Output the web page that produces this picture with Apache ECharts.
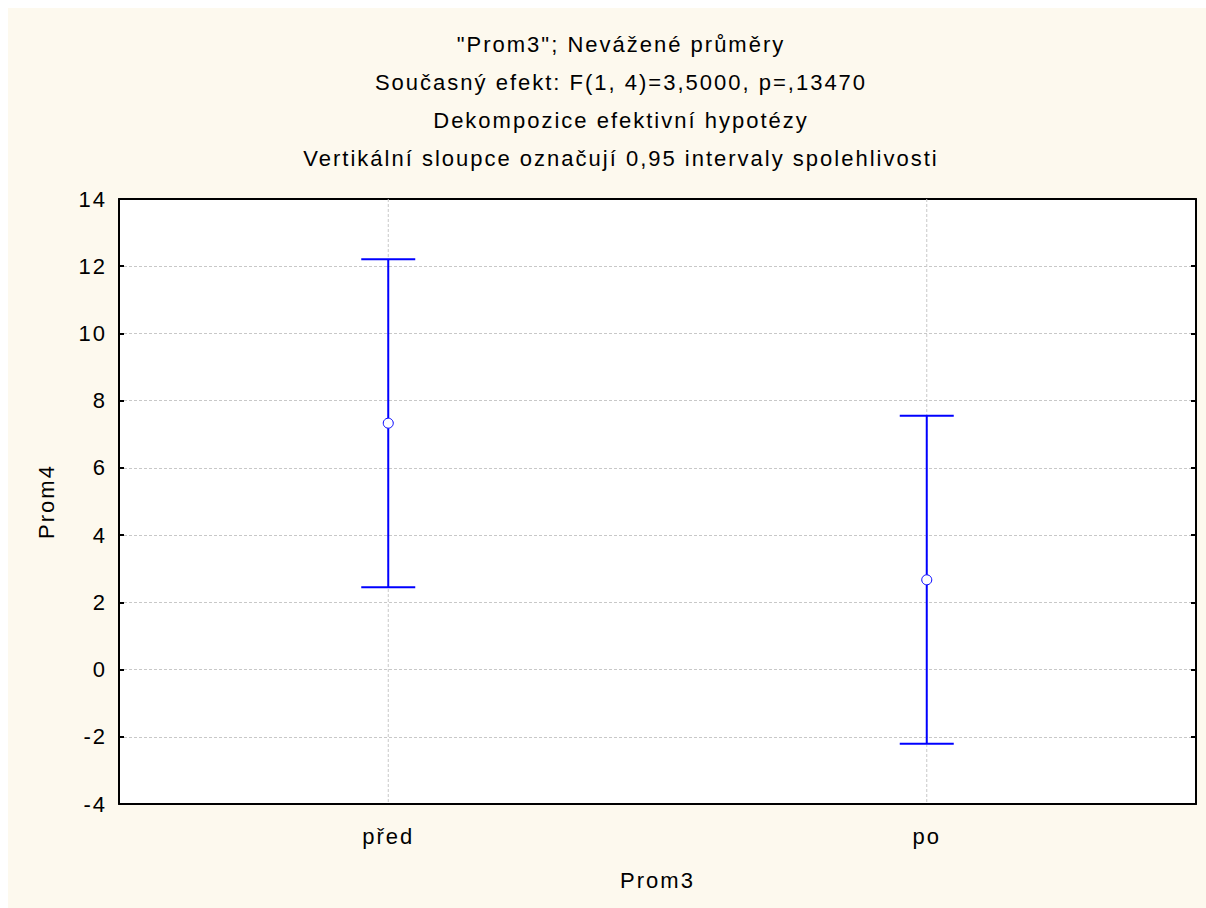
<!DOCTYPE html>
<html><head><meta charset="utf-8">
<script src="https://cdn.jsdelivr.net/npm/echarts@6/dist/echarts.min.js"></script>
<style>html,body{margin:0;padding:0;background:#fff}#c{width:1206px;height:908px}#c text{letter-spacing:2px}</style>
</head><body><div id="c"></div>
<script>
var titleLines = ['"Prom3"; Nevážené průměry','Současný efekt: F(1, 4)=3,5000, p=,13470','Dekompozice efektivní hypotézy','Vertikální sloupce označují 0,95 intervaly spolehlivosti'];
var categories = ['před','po'];
var means = [7.33, 2.67];
var lower = [2.45, -2.21];
var upper = [12.21, 7.55];
var yTicks = {min:-4, max:14, interval:2};
var xName = 'Prom3';
var yName = 'Prom4';

var data = categories.map(function(c,i){return [i, means[i], lower[i], upper[i]];});
var FONT = 'Liberation Sans, Arial, sans-serif';
var chart = echarts.init(document.getElementById('c'), null, {renderer:'svg'});
var axisText = {color:'#000', fontSize:22, fontFamily:FONT};
chart.setOption({
  animation:false,
  backgroundColor:'#fff',
  graphic:[
    {type:'rect', left:8, top:8, shape:{width:1198,height:900}, style:{fill:'#FDF9EE'}, z:-10, silent:true},
    {type:'text', x:621, y:25, style:{text:titleLines.join('\n'), textAlign:'center', textVerticalAlign:'top', font:'22px '+FONT, lineHeight:38, fill:'#000'}, z:10}
  ],
  grid:{left:119, right:10, top:199, bottom:104, show:true, backgroundColor:'#fff', borderWidth:0},
  xAxis:[
    {type:'category', data:categories, position:'bottom', boundaryGap:true,
     axisLine:{onZero:false, lineStyle:{color:'#000',width:2}},
     axisTick:{inside:true, alignWithLabel:true, length:5, lineStyle:{color:'#000',width:2}},
     axisLabel:Object.assign({margin:21}, axisText),
     splitLine:{show:false},
     name:xName, nameLocation:'middle', nameGap:65, nameTextStyle:axisText},
    {type:'category', data:categories, position:'top', boundaryGap:true,
     axisLine:{onZero:false, lineStyle:{color:'#000',width:2}},
     axisTick:{inside:true, alignWithLabel:true, length:5, lineStyle:{color:'#000',width:2}},
     axisLabel:{show:false}, splitLine:{show:false}}
  ],
  yAxis:[
    {type:'value', min:yTicks.min, max:yTicks.max, interval:yTicks.interval, position:'left',
     axisLine:{show:true, onZero:false, lineStyle:{color:'#000',width:2}},
     axisTick:{show:true, inside:true, length:5, lineStyle:{color:'#000',width:2}},
     axisLabel:Object.assign({margin:12}, axisText),
     splitLine:{show:true, lineStyle:{color:'#c8c8c8', type:[3,2], width:1}},
     name:yName, nameLocation:'middle', nameGap:62, nameTextStyle:axisText},
    {type:'value', min:yTicks.min, max:yTicks.max, interval:yTicks.interval, position:'right',
     axisLine:{show:true, onZero:false, lineStyle:{color:'#000',width:2}},
     axisTick:{show:true, inside:true, length:5, lineStyle:{color:'#000',width:2}},
     axisLabel:{show:false}, splitLine:{show:false}}
  ],
  series:[{
    type:'custom', xAxisIndex:0, yAxisIndex:0, data:data, z:5,
    renderItem:function(params, api){
      var x = api.value(0);
      var m = api.coord([x, api.value(1)]);
      var lo = api.coord([x, api.value(2)]);
      var hi = api.coord([x, api.value(3)]);
      var top = api.coord([x, yTicks.max]);
      var bot = api.coord([x, yTicks.min]);
      var cw = 27, r = 5;
      var blue = '#0000ff';
      return {type:'group', children:[
        {type:'line', shape:{x1:m[0],y1:top[1],x2:m[0],y2:bot[1]}, style:{stroke:'#c8c8c8', lineWidth:1, lineDash:[3,2]}, z2:0},
        {type:'line', shape:{x1:m[0],y1:hi[1],x2:m[0],y2:m[1]-r}, style:{stroke:blue, lineWidth:2}, z2:1},
        {type:'line', shape:{x1:m[0],y1:m[1]+r,x2:m[0],y2:lo[1]}, style:{stroke:blue, lineWidth:2}, z2:1},
        {type:'line', shape:{x1:m[0]-cw,y1:hi[1],x2:m[0]+cw,y2:hi[1]}, style:{stroke:blue, lineWidth:2}, z2:1},
        {type:'line', shape:{x1:m[0]-cw,y1:lo[1],x2:m[0]+cw,y2:lo[1]}, style:{stroke:blue, lineWidth:2}, z2:1},
        {type:'circle', shape:{cx:m[0],cy:m[1],r:r}, style:{fill:'#fff', stroke:blue, lineWidth:1}, z2:2}
      ]};
    }
  }]
});
</script></body></html>
